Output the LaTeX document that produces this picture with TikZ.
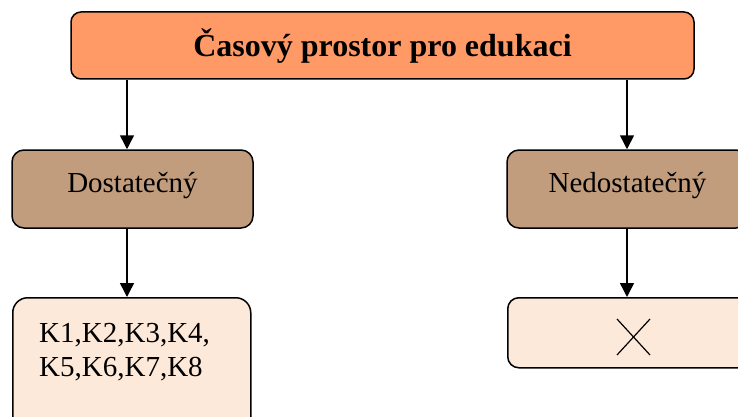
\documentclass[tikz,border=0pt]{standalone}
\usepackage{fontspec}
\setmainfont{Liberation Serif}
\usetikzlibrary{arrows.meta}

\definecolor{headfill}{RGB}{255,153,102}
\definecolor{midfill}{RGB}{194,157,125}
\definecolor{lowfill}{RGB}{253,233,217}

\tikzset{
  box/.style={draw=black, line width=1.5pt, rectangle, inner sep=0pt},
  conn/.style={line width=1.5pt, -{Triangle[length=14pt,width=14pt]}},
  midtext/.style={font=\fontsize{29}{34}\selectfont, text height=20pt, text depth=14pt},
}

\begin{document}
\begin{tikzpicture}[x=1pt,y=1pt]
  \useasboundingbox (0,0) rectangle (738,-417);
  \clip (0,0) rectangle (738,-417);

  % header
  \node[box, fill=headfill, rounded corners=10pt, minimum width=623pt, minimum height=67pt,
        font=\fontsize{32}{38}\selectfont\bfseries, text height=24pt, text depth=1pt]
        (head) at (382.5,-45.5) {Časový prostor pro edukaci};

  % second level
  \node[box, fill=midfill, rounded corners=12pt, minimum width=241pt, minimum height=78pt, midtext]
        (dost) at (132.5,-189) {Dostatečný};
  \node[box, fill=midfill, rounded corners=12pt, minimum width=241pt, minimum height=78pt, midtext]
        (nedost) at (627.5,-189) {Nedostatečný};

  % third level
  \node[box, fill=lowfill, rounded corners=15pt, minimum width=238pt, minimum height=140pt,
        anchor=north west] (kbox) at (12,-297) {};
  \node[anchor=base west, inner sep=0pt, font=\fontsize{29}{34}\selectfont] (ktext) at (39,-342)
        {\begin{tabular}[t]{@{}l@{}}K1,K2,K3,K4,\\K5,K6,K7,K8\end{tabular}};

  \node[box, fill=lowfill, rounded corners=11pt, minimum width=241pt, minimum height=70pt,
        anchor=north west] (xbox) at (507,-297) {};
  \draw[line width=1.2pt] (617,-319) -- (650,-355) (650,-319) -- (617,-355);

  % connectors
  \coordinate (lx) at (127,0);
  \coordinate (rx) at (627,0);
  \draw[conn] (head.south -| lx) -- (dost.north -| lx);
  \draw[conn] (head.south -| rx) -- (nedost.north -| rx);
  \draw[conn] (dost.south -| lx) -- (kbox.north -| lx);
  \draw[conn] (nedost.south -| rx) -- (xbox.north -| rx);
\end{tikzpicture}
\end{document}
